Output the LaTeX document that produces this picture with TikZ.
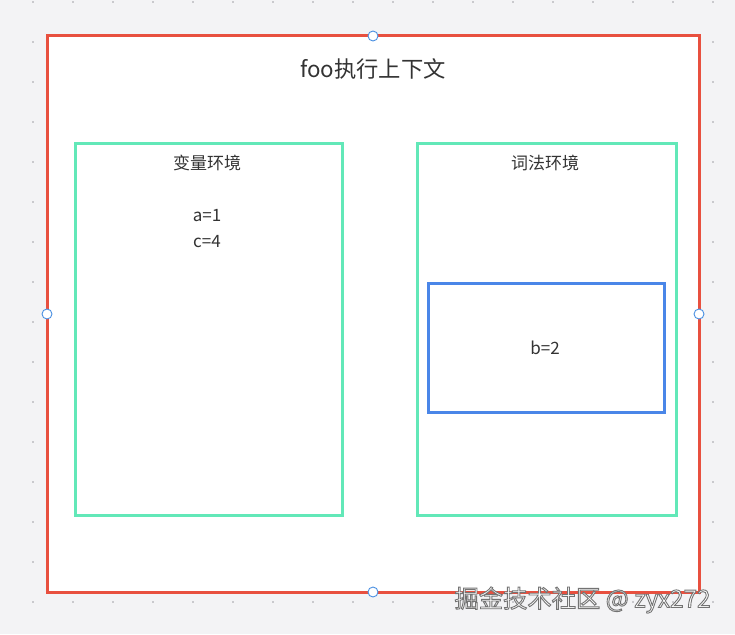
\documentclass[tikz,border=0pt]{standalone}
\usepackage{fontspec}
\setmainfont{Noto Sans CJK SC}
\definecolor{bgc}{HTML}{F3F3F5}
\definecolor{dotc}{HTML}{C9C9CD}
\definecolor{redc}{HTML}{E8503F}
\definecolor{greenc}{HTML}{62E8B8}
\definecolor{bluec}{HTML}{4A86E8}
\definecolor{txt}{HTML}{333333}
\definecolor{handlec}{HTML}{4A90E2}
\newcommand\wmstr{掘金技术社区 @ zyx272}
\newcommand\outlined[1]{{\color{white}\special{pdf:literal direct 0.45 G 0.9 w 2 Tr}#1\special{pdf:literal direct 0 Tr}}}
\tikzset{
  box/.style={draw, line width=3pt, inner sep=0pt, outer sep=0pt},
  envbox/.style={box, draw=greenc, minimum width=267pt, minimum height=372pt},
  handle/.style={circle, draw=handlec, fill=white, line width=0.9pt, minimum size=10pt, inner sep=0pt},
  lbl/.style={text=txt, inner sep=0pt, font=\fontsize{17}{20}\selectfont},
  wm/.style={inner sep=0pt, font=\fontsize{24.3}{28}\selectfont}
}
\begin{document}
\begin{tikzpicture}[x=1pt,y=-1pt]
\fill[bgc] (0,0) rectangle (735,634);
\useasboundingbox (0,0) rectangle (735,634);
\foreach \i in {0,...,17}{
  \foreach \j in {0,...,15}{
    \fill[dotc] ({33+40*\i-1},{2+40*\j-1}) rectangle ++(2.2,2.2);
  }
}
\node[box, draw=redc, fill=white, minimum width=652pt, minimum height=556pt] (ctx) at (373,314) {};
\node[text=txt, inner sep=0pt, font=\fontsize{22.3}{26}\selectfont] (title) at (373,69) {foo执行上下文};
\node[envbox] (venv) at (208.5,329) {};
\node[envbox, minimum width=259pt] (lenv) at (546.5,329) {};
\node[box, draw=bluec, minimum width=236pt, minimum height=129pt] (outer) at (546,347.5) {};
\node[lbl] (vtitle) at (207,163) {变量环境};
\node[lbl] (va) at (207,216) {a=1};
\node[lbl] (vc) at (207,242) {c=4};
\node[lbl] (ltitle) at (545,163) {词法环境};
\node[lbl] (lb) at (545,348) {b=2};
\node[handle] (hn) at (ctx.north) {};
\node[handle] (hs) at (ctx.south) {};
\node[handle] (hw) at (ctx.west) {};
\node[handle] (he) at (ctx.east) {};
\node[wm] (wmark) at (582.5,600) {\outlined{\wmstr}};
\end{tikzpicture}
\end{document}
